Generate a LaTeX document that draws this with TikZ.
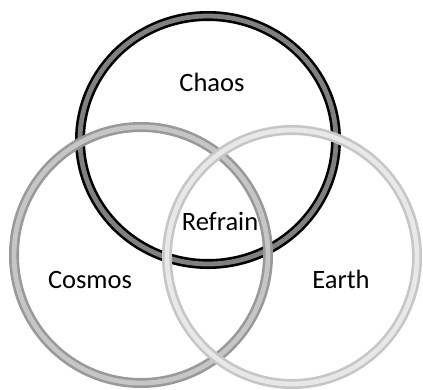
\documentclass[tikz,border=0pt]{standalone}
\usepackage{fontspec}
\setmainfont{Carlito}
\begin{document}
\begin{tikzpicture}[x=1pt,y=-1pt,
  ring/.style={line width=2.6pt, double distance=4.8pt},
  chaosring/.style={ring, draw=black, double=black!50},
  cosmosring/.style={ring, draw=gray!80, double=gray!45},
  earthring/.style={ring, draw=gray!45, double=gray!18},
  lbl/.style={font=\fontsize{26.5}{32}\selectfont, anchor=base, inner sep=0pt}]
\useasboundingbox (0,0) rectangle (423,389);
\draw[chaosring] (208,140) ellipse [x radius=128, y radius=124];
\draw[cosmosring] (141,255) ellipse [x radius=127, y radius=128];
\draw[earthring] (292,257) ellipse [x radius=125, y radius=127];
\node[lbl] (chaos) at (212,91) {Chaos};
\node[lbl] (refrain) at (220,230) {Refrain};
\node[lbl] (cosmos) at (90,288) {Cosmos};
\node[lbl] (earth) at (341,288) {Earth};
\end{tikzpicture}
\end{document}
